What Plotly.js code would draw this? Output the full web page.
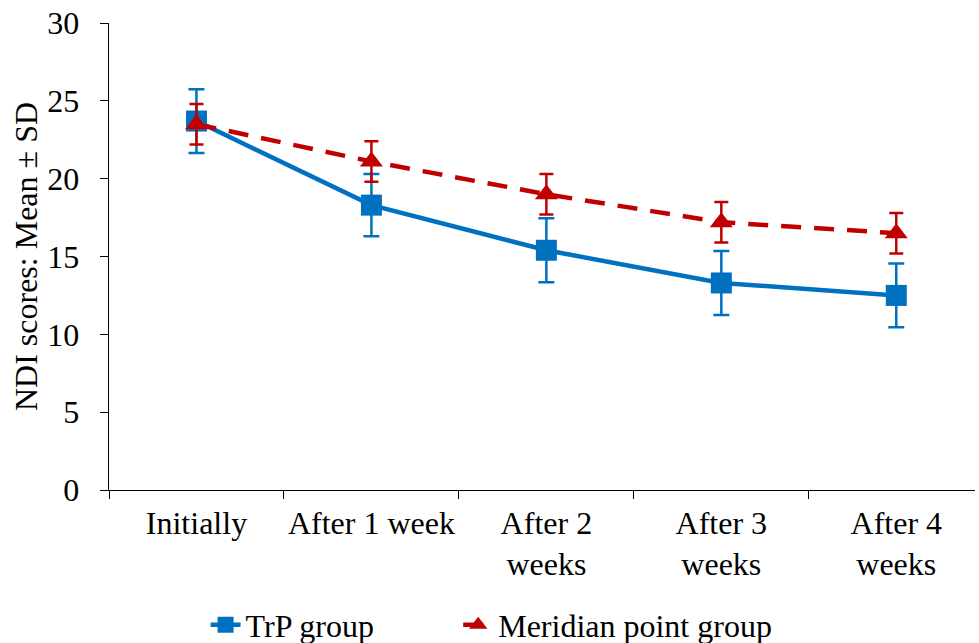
<!DOCTYPE html>
<html>
<head>
<meta charset="utf-8">
<script src="https://cdn.plot.ly/plotly-3.0.1.min.js"></script>
<style>html,body{margin:0;padding:0;background:#fff;}#chart{width:979px;height:643px;}</style>
</head>
<body>
<div id="chart"></div>
<script>
const categories = ["Initially", "After 1 week", "After 2<br>weeks", "After 3<br>weeks", "After 4<br>weeks"];
const trpMean = [23.7, 18.3, 15.4, 13.3, 12.5];
const trpSD = [2.05, 2.0, 2.05, 2.05, 2.05];
const meridianMean = [23.5, 21.1, 19.0, 17.2, 16.5];
const meridianSD = [1.3, 1.3, 1.3, 1.3, 1.3];
const seriesNames = ["TrP group", "Meridian point group"];

const FONT = "Liberation Serif";
const FS = 32;

const traces = [
  {
    x: categories, y: trpMean, name: seriesNames[0], type: "scatter", mode: "lines+markers",
    legend: "legend",
    line: {color: "#0070C0", width: 4.5},
    marker: {symbol: "square", size: 21, color: "#0070C0"},
    error_y: {type: "data", array: trpSD, visible: true, color: "#0070C0", thickness: 2.5, width: 8}
  },
  {
    x: categories, y: meridianMean, name: seriesNames[1], type: "scatter", mode: "lines+markers",
    legend: "legend2",
    line: {color: "#C00000", width: 4.5, dash: "20px,13px"},
    marker: {symbol: "triangle-up", size: 20, color: "#C00000"},
    error_y: {type: "data", array: meridianSD, visible: true, color: "#C00000", thickness: 2.5, width: 7}
  }
];

const legendBase = {
  orientation: "h", xref: "container", yref: "container",
  xanchor: "left", y: 0.028, yanchor: "middle",
  font: {family: FONT, size: FS}
};

const layout = {
  width: 979, height: 643,
  margin: {l: 109, r: 4, t: 23, b: 153},
  paper_bgcolor: "#fff", plot_bgcolor: "#fff",
  font: {family: FONT, size: FS, color: "#000"},
  showlegend: true,
  legend: Object.assign({}, legendBase, {x: 0.21}),
  legend2: Object.assign({}, legendBase, {x: 0.468}),
  xaxis: {
    type: "category", range: [-0.5, 4.45],
    showline: true, linecolor: "#000", linewidth: 1.3,
    ticks: "outside", ticklen: 8, tickcolor: "#000", tickson: "boundaries",
    tickangle: 0, ticklabelstandoff: 4,
    showgrid: false, zeroline: false, fixedrange: true,
    tickfont: {family: FONT, size: FS}
  },
  yaxis: {
    range: [0, 30], dtick: 5,
    showline: true, linecolor: "#000", linewidth: 1.3,
    ticks: "outside", ticklen: 8, tickcolor: "#000",
    ticklabelstandoff: 14,
    showgrid: false, zeroline: false,
    title: {text: "NDI scores: Mean ± SD", font: {family: FONT, size: FS}, standoff: 0},
    tickfont: {family: FONT, size: FS}
  }
};

Plotly.newPlot("chart", traces, layout, {displayModeBar: false, staticPlot: true});
</script>
</body>
</html>
